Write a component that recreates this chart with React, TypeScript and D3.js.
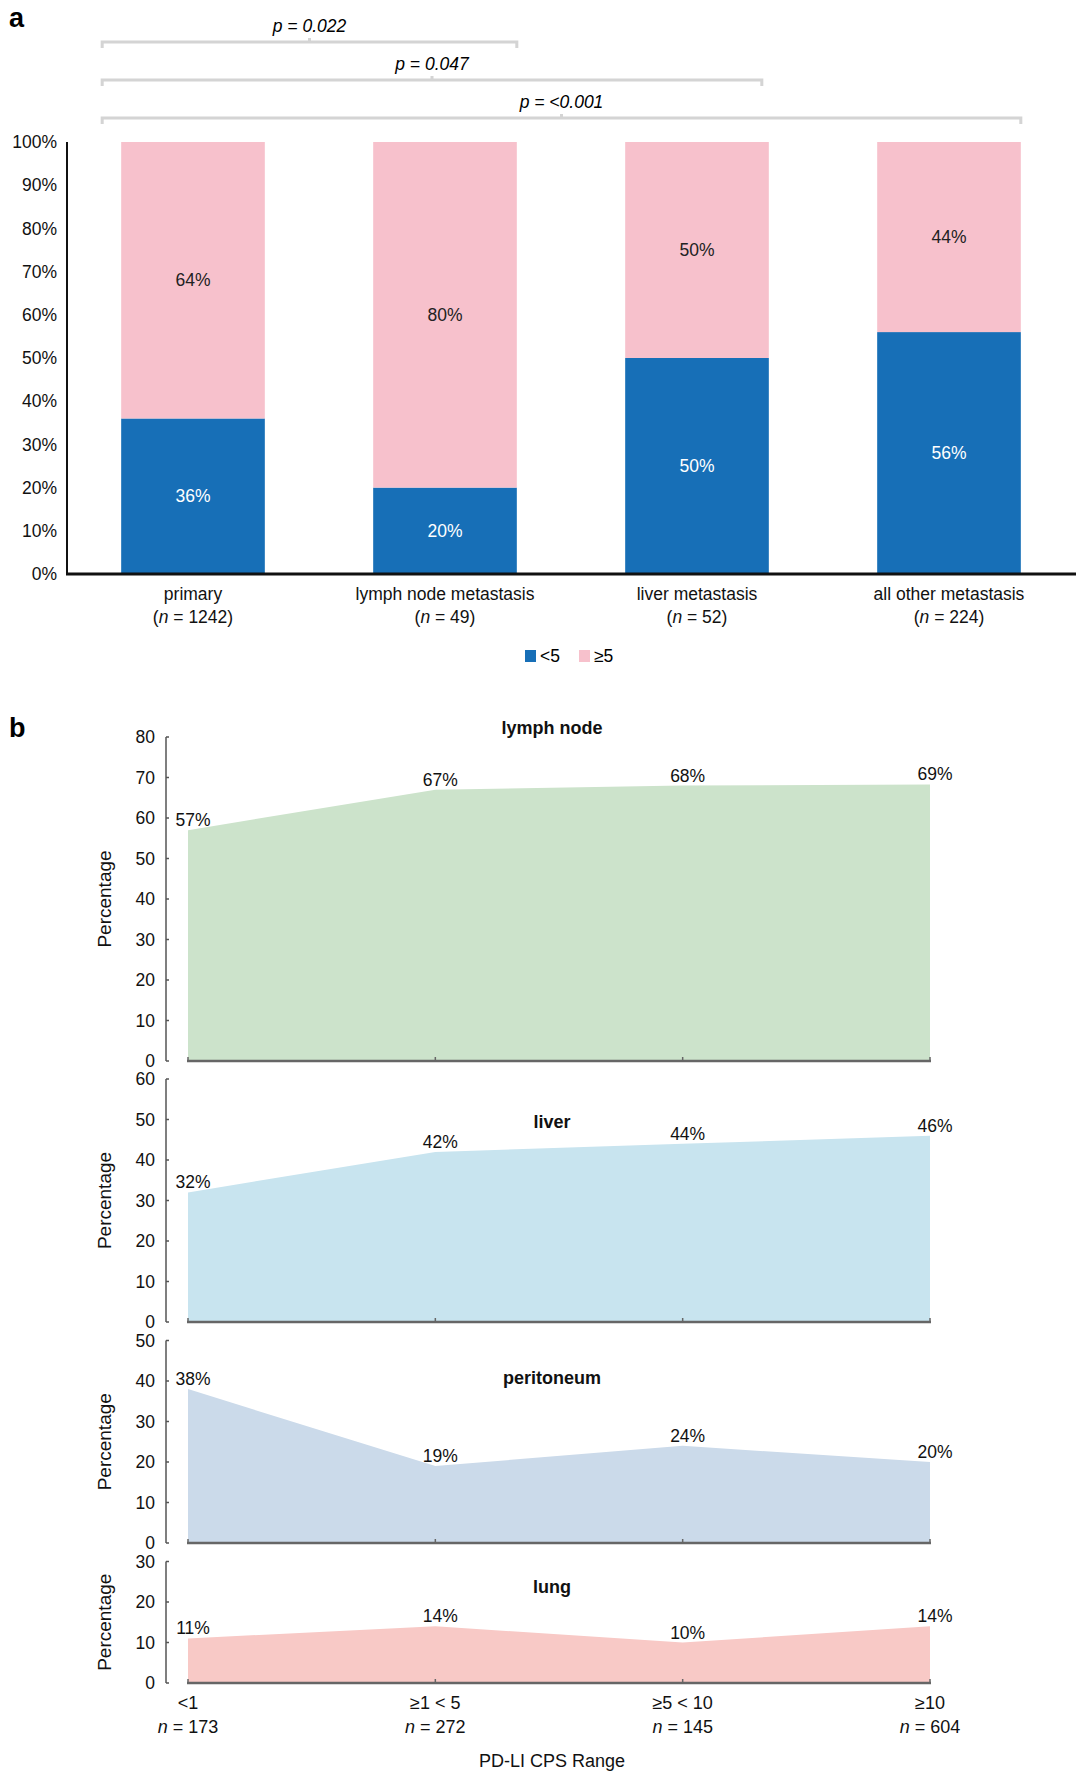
import * as d3 from 'd3';
import React from 'react';

// panel a
const sites = ['primary', 'lymph node metastasis', 'liver metastasis', 'all other metastasis'];
const siteN = ['1242', '49', '52', '224'];
const lowCps = [36, 20, 50, 56];
const highCps = [64, 80, 50, 44];
const pctTicks = [0, 10, 20, 30, 40, 50, 60, 70, 80, 90, 100];
const pValues = ['0.022', '0.047', '<0.001'];
const pTargets = [1, 2, 3];

// panel b
const cpsRanges = ['<1', '≥1 < 5', '≥5 < 10', '≥10'];
const cpsN = ['173', '272', '145', '604'];
const lymphValues = [57, 67, 68, 68.3];
const lymphLabels = ['57%', '67%', '68%', '69%'];
const liverValues = [32, 42, 44, 46];
const liverLabels = ['32%', '42%', '44%', '46%'];
const peritoneumValues = [38, 19, 24, 20];
const peritoneumLabels = ['38%', '19%', '24%', '20%'];
const lungValues = [11, 14, 10, 14];
const lungLabels = ['11%', '14%', '10%', '14%'];

const W = 1080;
const H = 1774;
const font = 'Liberation Sans, Arial, Helvetica, sans-serif';
const blue = '#176fb7';
const pink = '#f7c1cc';
const unit = 4.05;

const panels = [
  { title: 'lymph node', values: lymphValues, labels: lymphLabels, max: 80, zero: 1061, titleY: 734, fill: '#cce3cb' },
  { title: 'liver', values: liverValues, labels: liverLabels, max: 60, zero: 1322, titleY: 1128, fill: '#c8e4ef' },
  { title: 'peritoneum', values: peritoneumValues, labels: peritoneumLabels, max: 50, zero: 1543, titleY: 1384, fill: '#cbdaea' },
  { title: 'lung', values: lungValues, labels: lungLabels, max: 30, zero: 1683, titleY: 1593, fill: '#f8c9c6' },
];

const App: React.FC = () => {
  const xA = d3.scaleBand<string>().domain(sites).range([67, 1075]).paddingInner(0.43).paddingOuter(0.215);
  const yA = d3.scaleLinear().domain([0, 100]).range([574, 142]);
  const stack = d3.stack<number>().keys(['low', 'high'])
    .value((i, key) => (key === 'low' ? lowCps[i] : highCps[i]));
  const series = stack(d3.range(sites.length));

  const xB = d3.scalePoint<string>().domain(cpsRanges).range([188, 930]);

  const bracketLeft = (xA(sites[0]) || 0) - 19;

  return (
    <svg width={W} height={H} style={{ position: 'absolute', left: 0, top: 0, background: '#fff' }} fontFamily={font}>
      <text x={9} y={27} fontSize={27} fontWeight="bold">a</text>

      {/* significance brackets */}
      {pValues.map((p, i) => {
        const right = (xA(sites[pTargets[i]]) || 0) + xA.bandwidth() - (i === 1 ? 7 : 0);
        const y = 42 + i * 38;
        const mid = (bracketLeft + right) / 2;
        return (
          <g key={p}>
            <path
              d={`M${bracketLeft},${y + 6}V${y}H${right}V${y + 6}M${mid},${y}V${y - 4}`}
              fill="none" stroke="#d4d4d4" strokeWidth={3}
            />
            <text x={mid} y={y - 10} textAnchor="middle" fontSize={17.5} fontStyle="italic">
              p = {p}
            </text>
          </g>
        );
      })}

      {/* stacked bars */}
      {series.map((s) => (
        <g key={s.key} fill={s.key === 'low' ? blue : pink}>
          {s.map((d, i) => (
            <rect key={i} x={xA(sites[i])} width={xA.bandwidth()} y={yA(d[1])} height={yA(d[0]) - yA(d[1])} />
          ))}
        </g>
      ))}
      {series.map((s) => (
        <g key={'l' + s.key} fontSize={17.5} textAnchor="middle" fill={s.key === 'low' ? '#fff' : '#222'}>
          {s.map((d, i) => (
            <text key={i} x={(xA(sites[i]) || 0) + xA.bandwidth() / 2} y={yA((d[0] + d[1]) / 2)} dy="0.35em">
              {d[1] - d[0]}%
            </text>
          ))}
        </g>
      ))}

      {/* axes a */}
      <line x1={67} x2={67} y1={yA(100)} y2={yA(0)} stroke="#111" strokeWidth={2} />
      <line x1={66} x2={1076} y1={yA(0)} y2={yA(0)} stroke="#111" strokeWidth={3} />
      {pctTicks.map((t) => (
        <text key={t} x={57} y={yA(t)} dy="0.35em" textAnchor="end" fontSize={17.5} fill="#111">{t}%</text>
      ))}
      {sites.map((s, i) => (
        <text key={s} x={(xA(s) || 0) + xA.bandwidth() / 2} textAnchor="middle" fontSize={17.5} fill="#111">
          <tspan x={(xA(s) || 0) + xA.bandwidth() / 2} y={600}>{s}</tspan>
          <tspan x={(xA(s) || 0) + xA.bandwidth() / 2} y={623}>(<tspan fontStyle="italic">n</tspan> = {siteN[i]})</tspan>
        </text>
      ))}

      {/* legend a */}
      <rect x={525} y={650} width={11} height={12} fill={blue} />
      <text x={540} y={662} fontSize={17.5}>&lt;5</text>
      <rect x={579} y={650} width={11} height={12} fill={pink} />
      <text x={594} y={662} fontSize={17.5}>≥5</text>

      <text x={9} y={737} fontSize={27} fontWeight="bold">b</text>

      {panels.map((p) => {
        const y = d3.scaleLinear().domain([0, p.max]).range([p.zero, p.zero - p.max * unit]);
        const area = d3.area<number>()
          .x((_, i) => xB(cpsRanges[i]) || 0)
          .y0(y(0))
          .y1((v) => y(v));
        const top = y(p.max);
        return (
          <g key={p.title}>
            <path d={area(p.values) || ''} fill={p.fill} />
            <line x1={166} x2={166} y1={top} y2={p.zero} stroke="#555" strokeWidth={1.5} />
            {y.ticks(p.max / 10).map((t) => (
              <g key={t}>
                <line x1={166} x2={169} y1={y(t)} y2={y(t)} stroke="#555" strokeWidth={1.5} />
                <text x={155} y={y(t)} dy="0.35em" textAnchor="end" fontSize={17.5} fill="#111">{t}</text>
              </g>
            ))}
            <line x1={187} x2={931} y1={p.zero} y2={p.zero} stroke="#666" strokeWidth={2.5} />
            {cpsRanges.map((c) => (
              <line key={c} x1={xB(c)} x2={xB(c)} y1={p.zero} y2={p.zero - 4} stroke="#666" strokeWidth={1.5} />
            ))}
            {p.values.map((v, i) => (
              <text key={i} x={(xB(cpsRanges[i]) || 0) + 5} y={y(v) - 4} textAnchor="middle" fontSize={17.5} fill="#111">
                {p.labels[i]}
              </text>
            ))}
            <text x={552} y={p.titleY} textAnchor="middle" fontSize={18} fontWeight="bold" fill="#111">{p.title}</text>
            <text
              transform={`translate(104,${(top + p.zero) / 2}) rotate(-90)`}
              textAnchor="middle" dy="0.35em" fontSize={19} fill="#111"
            >
              Percentage
            </text>
          </g>
        );
      })}

      {cpsRanges.map((c, i) => (
        <g key={c} fontSize={18} textAnchor="middle" fill="#111">
          <text x={xB(c)} y={1709}>{c}</text>
          <text x={xB(c)} y={1733}><tspan fontStyle="italic">n</tspan> = {cpsN[i]}</text>
        </g>
      ))}
      <text x={552} y={1767} textAnchor="middle" fontSize={18} fill="#111">PD-LI CPS Range</text>
    </svg>
  );
};

export default App;
